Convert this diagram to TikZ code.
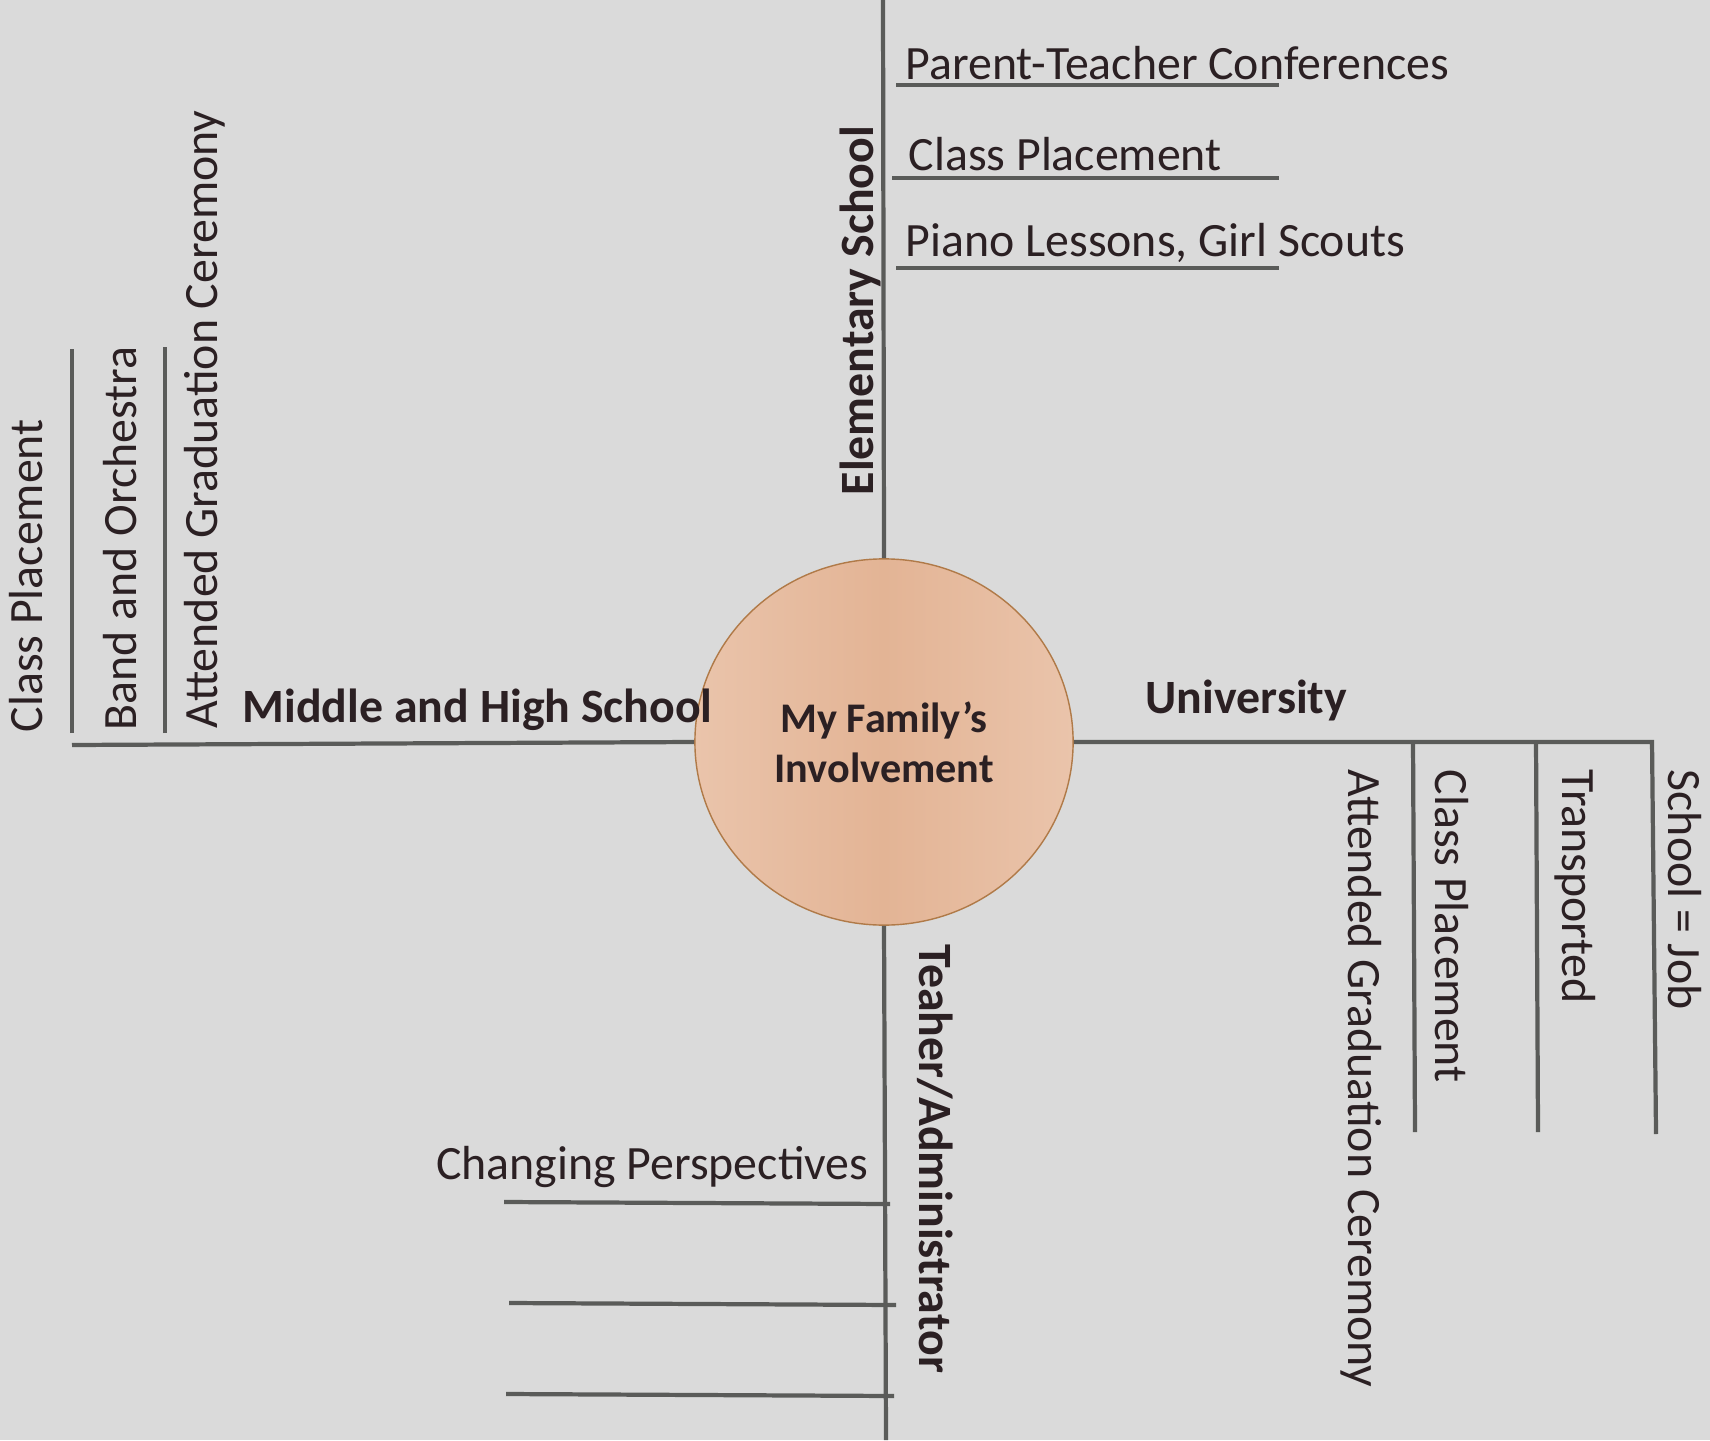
\documentclass[tikz,border=0pt]{standalone}
\usepackage{fontspec}
\setmainfont{Carlito}
\usetikzlibrary{shapes.geometric}

\definecolor{canvas}{HTML}{DADADA}
\definecolor{spokegray}{HTML}{5A5B59}
\definecolor{inkbrown}{HTML}{2B2023}
\definecolor{peach}{HTML}{E3B495}
\definecolor{peachlight}{HTML}{EAC4AB}
\definecolor{rim}{HTML}{B07A48}

\begin{document}
\begin{tikzpicture}[x=0.01cm,y=-0.01cm,
    spoke/.style={draw=spokegray,line width=1.2pt},
    item/.style={text=inkbrown,inner sep=0pt,font=\fontsize{13.6}{16}\selectfont},
    stage/.style={item,font=\fontsize{13.6}{16}\selectfont\bfseries}]
        \fill [canvas] (0,0) rectangle (1710,1440);
        \useasboundingbox (0,0) rectangle (1710,1440);

        \node [ellipse,draw=rim,line width=0.4pt,minimum width=3.78cm,minimum height=3.66cm,inner sep=0pt,
          left color=peachlight,right color=peachlight,middle color=peach,
          align=center,text=inkbrown,font=\fontsize{12}{14.2}\selectfont\bfseries] (hub) at (884,742) {My Family’s\\Involvement};

        % main spokes
        \coordinate (esEnd) at (883,0);
        \coordinate (mhEnd) at (72,745);
        \coordinate (uEnd) at (1652,742);
        \coordinate (uFoot) at (1656,1134);
        \coordinate (taEnd) at (886,1440);
        \draw [spoke] (hub.north) -- (esEnd);
        \draw [spoke] (hub.west) -- (mhEnd);
        \draw [spoke] (hub.east) -- (uEnd) -- (uFoot);
        \draw [spoke] (hub.south) -- (taEnd);

        % Elementary School
        \node [stage,rotate=90,anchor=base west] (es) at (873,496) {Elementary School};
        \node [item,anchor=base west] (es1) at (905,80) {Parent-Teacher Conferences};
        \node [item,anchor=base west] (es2) at (908,171) {Class Placement};
        \node [item,anchor=base west] (es3) at (905,257) {Piano Lessons, Girl Scouts};
        \coordinate (es1a) at (896,85);  \coordinate (es1b) at (1279,85);
        \coordinate (es2a) at (892,178); \coordinate (es2b) at (1279,178);
        \coordinate (es3a) at (896,268); \coordinate (es3b) at (1279,268);
        \draw [spoke] (es1a) -- (es1b);
        \draw [spoke] (es2a) -- (es2b);
        \draw [spoke] (es3a) -- (es3b);

        % Middle and High School
        \node [stage,anchor=base west] (mh) at (242,722) {Middle and High School};
        \node [item,rotate=90,anchor=base west] (mh1) at (42,733) {Class Placement};
        \node [item,rotate=90,anchor=base west] (mh2) at (136,731) {Band and Orchestra};
        \node [item,rotate=90,anchor=base west] (mh3) at (217,729) {Attended Graduation Ceremony};
        \coordinate (mh1a) at (72,733);  \coordinate (mh1b) at (72,349);
        \coordinate (mh2a) at (165,733); \coordinate (mh2b) at (165,347);
        \draw [spoke] (mh1a) -- (mh1b);
        \draw [spoke] (mh2a) -- (mh2b);

        % University
        \node [stage,anchor=base west] (u) at (1145,713) {University};
        \node [item,rotate=-90,anchor=base west] (u1) at (1348,769) {Attended Graduation Ceremony};
        \node [item,rotate=-90,anchor=base west] (u2) at (1435,769) {Class Placement};
        \node [item,rotate=-90,anchor=base west] (u3) at (1562,769) {Transported};
        \node [item,rotate=-90,anchor=base west] (u4) at (1668,769) {School = Job};
        \coordinate (u1a) at (1413,742); \coordinate (u1b) at (1415,1132);
        \coordinate (u2a) at (1536,742); \coordinate (u2b) at (1538,1132);
        \draw [spoke] (u1a) -- (u1b);
        \draw [spoke] (u2a) -- (u2b);

        % Teacher/Administrator
        \node [stage,rotate=-90,anchor=base west] (ta) at (919,944) {Teaher/Administrator};
        \node [item,anchor=base east] (ta1) at (869,1179) {Changing Perspectives};
        \coordinate (ta1a) at (504,1202); \coordinate (ta1b) at (890,1204);
        \coordinate (ta2a) at (509,1303); \coordinate (ta2b) at (896,1305);
        \coordinate (ta3a) at (506,1394); \coordinate (ta3b) at (894,1396);
        \draw [spoke] (ta1a) -- (ta1b);
        \draw [spoke] (ta2a) -- (ta2b);
        \draw [spoke] (ta3a) -- (ta3b);
\end{tikzpicture}
\end{document}
